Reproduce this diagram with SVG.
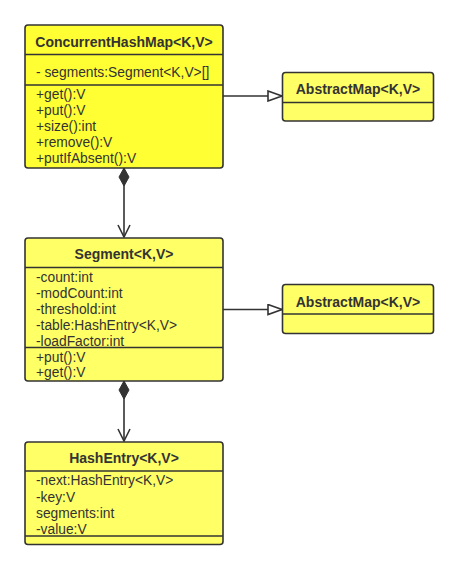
<svg xmlns="http://www.w3.org/2000/svg" width="459" height="570" viewBox="0 0 459 570">
<style>
.box{stroke:#333;stroke-width:1.6}
.b1{fill:#ffff33}
.b2{fill:#ffff66}
.div{stroke:#333;stroke-width:1.6}
.t{font-family:"Liberation Sans",Arial,sans-serif;font-size:13.8px;fill:#333}
.h{font-weight:bold;font-size:14px;text-anchor:middle}
.ln{stroke:#333;stroke-width:1.6;fill:none}
</style>
<defs>
<marker id="tri" viewBox="0 0 16 12" refX="15" refY="6" markerWidth="16" markerHeight="12" markerUnits="userSpaceOnUse" orient="auto">
<path d="M1,1 L15,6 L1,11 Z" fill="#fff" stroke="#333" stroke-width="1.6"/>
</marker>
<marker id="open" viewBox="0 0 14 14" refX="13" refY="7" markerWidth="14" markerHeight="14" markerUnits="userSpaceOnUse" orient="auto">
<path d="M1,1 L13,7 L1,13" fill="none" stroke="#333" stroke-width="1.6"/>
</marker>
<marker id="dia" viewBox="0 0 20 12" refX="1" refY="6" markerWidth="20" markerHeight="12" markerUnits="userSpaceOnUse" orient="auto">
<path d="M1,6 L10,1 L19,6 L10,11 Z" fill="#333" stroke="#333" stroke-width="1"/>
</marker>
</defs>
<g id="connectors">
<line class="ln" x1="124" y1="168" x2="124" y2="237" marker-start="url(#dia)" marker-end="url(#open)"/>
<line class="ln" x1="124" y1="381" x2="124" y2="441" marker-start="url(#dia)" marker-end="url(#open)"/>
<line class="ln" x1="223" y1="96" x2="282" y2="96" marker-end="url(#tri)"/>
<line class="ln" x1="223" y1="309.5" x2="282" y2="309.5" marker-end="url(#tri)"/>
</g>
<g id="ConcurrentHashMap">
<rect class="box b1" x="25" y="25" width="198" height="143" rx="3"/>
<line class="div" x1="25" y1="54.5" x2="223" y2="54.5"/>
<line class="div" x1="25" y1="85" x2="223" y2="85"/>
<text class="t h" x="124" y="46.5">ConcurrentHashMap&lt;K,V&gt;</text>
<text class="t" x="36" y="76.5">- segments:Segment&lt;K,V&gt;[]</text>
<text class="t" x="36" y="99">+get():V</text>
<text class="t" x="36" y="115">+put():V</text>
<text class="t" x="36" y="131">+size():int</text>
<text class="t" x="36" y="147">+remove():V</text>
<text class="t" x="36" y="163">+putIfAbsent():V</text>
</g>
<g id="AbstractMap1">
<rect class="box b2" x="282.5" y="72.5" width="151" height="48.5" rx="3"/>
<line class="div" x1="282.5" y1="102.5" x2="433.5" y2="102.5"/>
<text class="t h" x="358" y="94">AbstractMap&lt;K,V&gt;</text>
</g>
<g id="Segment">
<rect class="box b2" x="25" y="238" width="198" height="143" rx="3"/>
<line class="div" x1="25" y1="267.5" x2="223" y2="267.5"/>
<line class="div" x1="25" y1="347.5" x2="223" y2="347.5"/>
<text class="t h" x="124" y="258.5">Segment&lt;K,V&gt;</text>
<text class="t" x="36" y="281.5">-count:int</text>
<text class="t" x="36" y="297.5">-modCount:int</text>
<text class="t" x="36" y="313.5">-threshold:int</text>
<text class="t" x="36" y="329.5">-table:HashEntry&lt;K,V&gt;</text>
<text class="t" x="36" y="345.5">-loadFactor:int</text>
<text class="t" x="36" y="361.5">+put():V</text>
<text class="t" x="36" y="377">+get():V</text>
</g>
<g id="AbstractMap2">
<rect class="box b2" x="282.5" y="284.5" width="151" height="49" rx="3"/>
<line class="div" x1="282.5" y1="314" x2="433.5" y2="314"/>
<text class="t h" x="358" y="306.5">AbstractMap&lt;K,V&gt;</text>
</g>
<g id="HashEntry">
<rect class="box b2" x="25" y="442" width="198" height="102.5" rx="3"/>
<line class="div" x1="25" y1="471" x2="223" y2="471"/>
<line class="div" x1="25" y1="536" x2="223" y2="536"/>
<text class="t h" x="124" y="462.5">HashEntry&lt;K,V&gt;</text>
<text class="t" x="36" y="485">-next:HashEntry&lt;K,V&gt;</text>
<text class="t" x="36" y="501.5">-key:V</text>
<text class="t" x="36" y="517.5">segments:int</text>
<text class="t" x="36" y="533.5">-value:V</text>
</g>
</svg>
